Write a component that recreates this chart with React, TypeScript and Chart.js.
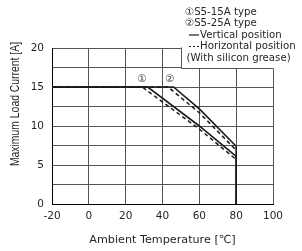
import { useEffect, useRef } from 'react';
import { Chart, registerables } from 'chart.js';

Chart.register(...registerables);

// Derating curves: ambient temperature [°C] vs maximum load current [A]
const temps15Vertical = [-20, 32, 60, 80, 80];
const load15Vertical = [15, 15, 10, 6.1, 0];
const temps15Horizontal = [-20, 29, 60, 80];
const load15Horizontal = [15, 15, 9.6, 5.7];
const temps25Vertical = [-20, 46, 60, 80, 80];
const load25Vertical = [15, 15, 12.2, 7.4, 0];
const temps25Horizontal = [-20, 43, 60, 80];
const load25Horizontal = [15, 15, 11.7, 6.9];

const xTickValues = [-20, 0, 20, 40, 60, 80, 100];
const yLabelValues = [0, 5, 10, 15, 20];

const curveMarkLabels = ['①', '②'];
const curveMarkTemps = [29, 44];
const curveMarkLoad = 16;

const legendTexts = ['①S5-15A type', '②S5-25A type', 'Vertical position', 'Horizontal position', '(With silicon grease)'];
const xTitle = 'Ambient Temperature [℃]';
const yTitle = 'Maximum Load Current [A]';

const toPoints = (xs: number[], ys: number[]) => xs.map((x, i) => ({ x, y: ys[i] }));

const INK = '#1a1a1a';
const TEXT = '#262626';
const GRID = '#555555';
const HFONT = '"DejaVu Sans", "Noto Sans CJK JP", sans-serif';

const annotPlugin = {
  id: 'annot',
  afterDraw(chart: any) {
    const { ctx, scales } = chart;
    const xs = scales.x;
    const ys = scales.y;
    ctx.save();

    // curve markers ① ②
    ctx.fillStyle = '#444';
    ctx.font = `10.5px ${HFONT}`;
    ctx.textAlign = 'center';
    ctx.textBaseline = 'middle';
    curveMarkLabels.forEach((lab, i) => {
      ctx.fillText(lab, xs.getPixelForValue(curveMarkTemps[i]), ys.getPixelForValue(curveMarkLoad));
    });

    // legend box (covers upper right corner of the plot)
    const bl = Math.round(xs.getPixelForValue(50)) + 0.5;
    const bb = Math.round(ys.getPixelForValue(17.4)) + 0.5;
    const right = chart.width;
    ctx.fillStyle = '#fff';
    ctx.fillRect(bl, 0, right - bl, bb);
    ctx.strokeStyle = GRID;
    ctx.lineWidth = 1;
    ctx.beginPath();
    ctx.moveTo(bl, ys.getPixelForValue(20) - 0.5);
    ctx.lineTo(bl, bb);
    ctx.lineTo(xs.getPixelForValue(100) + 0.5, bb);
    ctx.stroke();

    ctx.fillStyle = TEXT;
    ctx.font = `10.2px ${HFONT}`;
    ctx.textAlign = 'left';
    ctx.textBaseline = 'middle';
    const rowY = [12, 23.5, 35, 46.5, 58];
    const tx = bl + 3.5;
    ctx.fillText(legendTexts[0], tx, rowY[0]);
    ctx.fillText(legendTexts[1], tx, rowY[1]);
    ctx.fillText(legendTexts[2], tx + 15, rowY[2]);
    ctx.fillText(legendTexts[3], tx + 15, rowY[3]);
    ctx.fillText(legendTexts[4], tx + 1.5, rowY[4]);
    ctx.strokeStyle = INK;
    ctx.lineWidth = 1.2;
    ctx.beginPath();
    ctx.moveTo(tx + 4, rowY[2]);
    ctx.lineTo(tx + 14, rowY[2]);
    ctx.stroke();
    ctx.setLineDash([2, 2]);
    ctx.beginPath();
    ctx.moveTo(tx + 4, rowY[3]);
    ctx.lineTo(tx + 14, rowY[3]);
    ctx.stroke();
    ctx.setLineDash([]);

    // axis titles
    ctx.fillStyle = TEXT;
    ctx.font = `11.2px ${HFONT}`;
    ctx.textAlign = 'center';
    ctx.textBaseline = 'middle';
    ctx.fillText(xTitle, (xs.left + xs.right) / 2, 240);

    ctx.save();
    ctx.translate(15, 104);
    ctx.scale(1.25, 1);
    ctx.rotate(-Math.PI / 2);
    ctx.font = '10.4px "Liberation Sans", Arial, sans-serif';
    ctx.fillText(yTitle, 0, 0);
    ctx.restore();

    ctx.restore();
  },
};

export default function App() {
  const ref = useRef<HTMLCanvasElement | null>(null);

  useEffect(() => {
    if (!ref.current) return;
    const solid = { borderColor: INK, borderWidth: 1.6, pointRadius: 0, showLine: true, fill: false, tension: 0 };
    const dashed = { ...solid, borderWidth: 1.5, borderDash: [4, 3] };
    const chart = new Chart(ref.current, {
      type: 'scatter',
      data: {
        datasets: [
          { label: 'S5-15A horizontal', data: toPoints(temps15Horizontal, load15Horizontal), ...dashed },
          { label: 'S5-25A horizontal', data: toPoints(temps25Horizontal, load25Horizontal), ...dashed },
          { label: 'S5-15A vertical', data: toPoints(temps15Vertical, load15Vertical), ...solid },
          { label: 'S5-25A vertical', data: toPoints(temps25Vertical, load25Vertical), ...solid },
        ],
      },
      options: {
        animation: false,
        responsive: false,
        devicePixelRatio: 1,
        layout: { padding: { top: 48, right: 29, left: 0, bottom: 0 } },
        plugins: { legend: { display: false }, tooltip: { enabled: false } },
        scales: {
          x: {
            type: 'linear',
            min: -20,
            max: 100,
            afterBuildTicks: (s: any) => { s.ticks = xTickValues.map((v) => ({ value: v })); },
            afterFit: (s: any) => { s.height = 47; },
            ticks: { autoSkip: false, maxRotation: 0, padding: 6, color: TEXT, font: { family: HFONT, size: 10.5 } },
            grid: { color: GRID, lineWidth: 1, drawTicks: false },
            border: { color: '#000', width: 1 },
          },
          y: {
            type: 'linear',
            min: 0,
            max: 20,
            ticks: {
              stepSize: 2.5,
              autoSkip: false,
              padding: 8,
              color: TEXT,
              font: { family: HFONT, size: 10.5 },
              callback: (v: any) => (yLabelValues.includes(Number(v)) ? String(v) : ''),
            },
            afterFit: (s: any) => { s.width = 52; },
            grid: { color: GRID, lineWidth: 1, drawTicks: false },
            border: { color: '#000', width: 1 },
          },
        },
      },
      plugins: [annotPlugin],
    } as any);
    return () => chart.destroy();
  }, []);

  return (
    <div style={{ position: 'absolute', left: 0, top: 0, width: 302, height: 251, background: '#fff' }}>
      <canvas ref={ref} width={302} height={251} />
    </div>
  );
}
